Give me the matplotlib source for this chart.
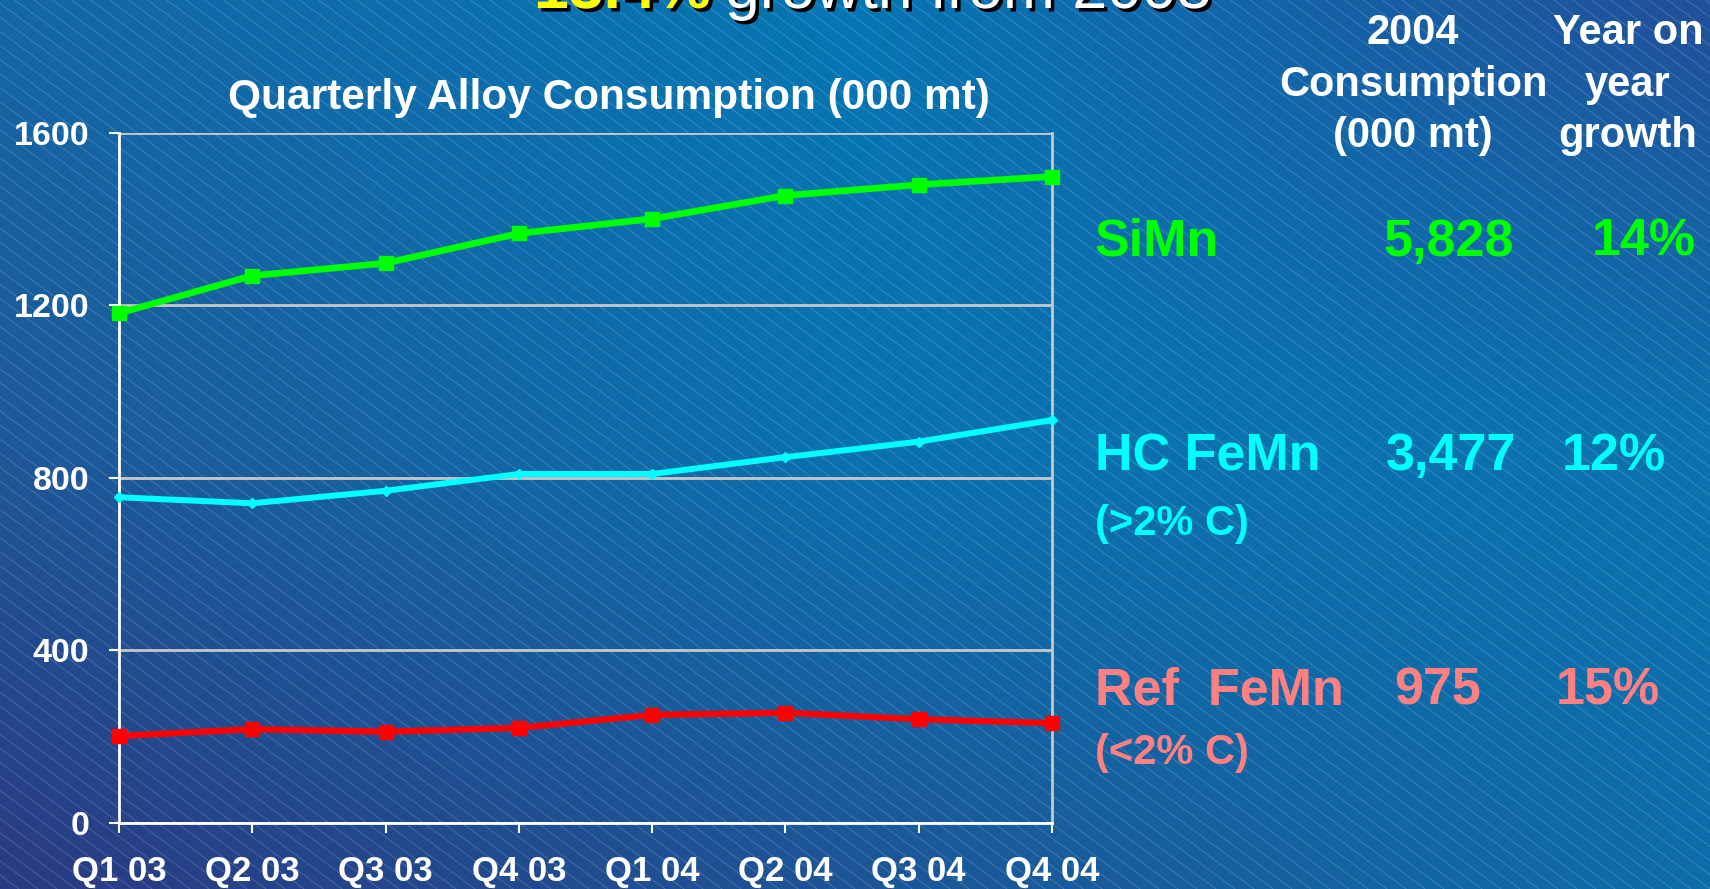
import numpy as np
import matplotlib
matplotlib.use("Agg")
import matplotlib.pyplot as plt
from matplotlib.collections import LineCollection
import matplotlib.patheffects as pe
from matplotlib.colors import to_rgb

# ---------------- data ----------------
quarters = ["Q1 03", "Q2 03", "Q3 03", "Q4 03", "Q1 04", "Q2 04", "Q3 04", "Q4 04"]
simn = [1182, 1269, 1298, 1367, 1401, 1455, 1480, 1499]
hc_femn = [755, 741, 770, 809, 809, 848, 884, 934]
ref_femn = [201, 217, 211, 220, 250, 255, 240, 231]
yticks = [0, 400, 800, 1200, 1600]

alloy_names = ["SiMn", "HC FeMn", "Ref  FeMn"]
alloy_sub = ["", "(>2% C)", "(<2% C)"]
consumption_2004 = ["5,828", "3,477", "975"]
yoy_growth = ["14%", "12%", "15%"]

chart_title = "Quarterly Alloy Consumption (000 mt)"
top_title_yellow = "13.4%"
top_title_white = "growth from 2003"

W, H = 1710, 889
FONT = "Liberation Sans"
plt.rcParams["font.family"] = [FONT, "DejaVu Sans"]

fig = plt.figure(figsize=(W / 100, H / 100), dpi=100)

# ---------------- background ----------------
bg = fig.add_axes([0, 0, 1, 1], zorder=-10)
bg.set_xlim(0, W)
bg.set_ylim(0, H)
bg.axis("off")
ctrl = [["#1467A6", "#0676B4", "#21509A"],
        ["#1E5898", "#0A72B0", "#0B73AF"],
        ["#2A3A82", "#1D5596", "#0E6DAA"]]
ctrl = np.array([[to_rgb(c) for c in row] for row in ctrl])
ny, nx = 90, 172
yy = np.linspace(0, 2, ny)
xx = np.linspace(0, 2, nx)
img = np.zeros((ny, nx, 3))
for i, yv in enumerate(yy):
    r0 = int(min(yv, 1.999)); fy_ = yv - r0
    for j, xv in enumerate(xx):
        c0 = int(min(xv, 1.999)); fx_ = xv - c0
        a = ctrl[r0, c0] * (1 - fx_) + ctrl[r0, c0 + 1] * fx_
        b = ctrl[r0 + 1, c0] * (1 - fx_) + ctrl[r0 + 1, c0 + 1] * fx_
        img[i, j] = a * (1 - fy_) + b * fy_
bg.imshow(img, extent=[0, W, 0, H], aspect="auto", interpolation="bilinear", origin="upper")
slope = 0.74
segs = []
for c in np.arange(0, H + slope * W + 20, 19 * slope):
    segs.append([(0, c), (W, c - slope * W)])
bg.add_collection(LineCollection(segs, colors="white", linewidths=0.55, alpha=0.22))

# ---------------- chart ----------------
def fx(px):
    return px / W

def fy(py):
    return 1 - py / H

ax = fig.add_axes([fx(119), fy(822.7), fx(1052) - fx(119), fy(133) - fy(822.7)])
ax.patch.set_alpha(0)
x = np.arange(len(quarters))
ax.plot(x, simn, color="#00FF00", lw=4.8, marker="s", ms=9.5, clip_on=False, zorder=5)
ax.plot(x, hc_femn, color="#00FFFF", lw=4.3, marker="D", ms=5, clip_on=False, zorder=5)
ax.plot(x, ref_femn, color="#FF0000", lw=4.5, marker="s", ms=9.5, clip_on=False, zorder=5)

ax.set_xlim(0, len(quarters) - 1)
ax.set_ylim(0, 1600)
ax.set_yticks(yticks)
ax.set_yticklabels([str(v) for v in yticks])
ax.set_xticks(x)
ax.set_xticklabels(quarters)
ax.set_axisbelow(True)
ax.grid(axis="y", color="#C8C8C8", lw=2)
for s in ["left", "bottom"]:
    ax.spines[s].set_color("white")
    ax.spines[s].set_linewidth(2)
ax.spines["right"].set_color("#C8C8C8")
ax.spines["right"].set_linewidth(2)
ax.spines["top"].set_visible(False)
ax.tick_params(axis="y", colors="white", length=7.5, width=1.5, pad=14,
               labelsize=24.5)
ax.tick_params(axis="x", colors="white", length=7.5, width=1.5, pad=16,
               labelsize=25)
for lab in ax.get_xticklabels() + ax.get_yticklabels():
    lab.set_fontweight("bold")
    lab.set_color("white")

fig.text(fx(609), fy(98), chart_title, ha="center", va="center", color="white",
         fontsize=30.5, fontweight="bold")

# ---------------- top title (cut off at the top edge, as in the slide) ----------------
shadow = [pe.withSimplePatchShadow(offset=(2.5, -2.5), shadow_rgbFace="black", alpha=1.0)]
fig.text(fx(534), fy(8), top_title_yellow, ha="left", va="baseline", color="#FFFF00",
         fontsize=45, fontweight="bold", path_effects=shadow)
fig.text(fx(725), fy(8), top_title_white, ha="left", va="baseline", color="white",
         fontsize=45, path_effects=shadow)

# ---------------- right-hand table ----------------
for txt, yc in zip(["2004", "Consumption", "(000 mt)"], [33, 85, 136]):
    fig.text(fx(1413), fy(yc), txt, ha="center", va="center", color="white",
             fontsize=30, fontweight="bold")
for txt, yc in zip(["Year on", "year", "growth"], [33, 85, 136]):
    fig.text(fx(1628), fy(yc), txt, ha="center", va="center", color="white",
             fontsize=30, fontweight="bold")

row_colors = ["#00FF00", "#00FFFF", "#FF8080"]
row_y = [242, 457, 691]
sub_y = [None, 524, 753]
val_x = [1514, 1516, 1481]
pct_x = [1696, 1666, 1660]
for i in range(len(alloy_names)):
    c = row_colors[i]
    fig.text(fx(1095), fy(row_y[i]), alloy_names[i], ha="left", va="center",
             color=c, fontsize=37.5, fontweight="bold")
    fig.text(fx(val_x[i]), fy(row_y[i]), consumption_2004[i], ha="right", va="center",
             color=c, fontsize=37.5, fontweight="bold")
    fig.text(fx(pct_x[i]), fy(row_y[i]), yoy_growth[i], ha="right", va="center",
             color=c, fontsize=37.5, fontweight="bold")
    if alloy_sub[i]:
        fig.text(fx(1095), fy(sub_y[i]), alloy_sub[i], ha="left", va="center",
                 color=c, fontsize=30, fontweight="bold")

fig.savefig("out.png", dpi=100)
